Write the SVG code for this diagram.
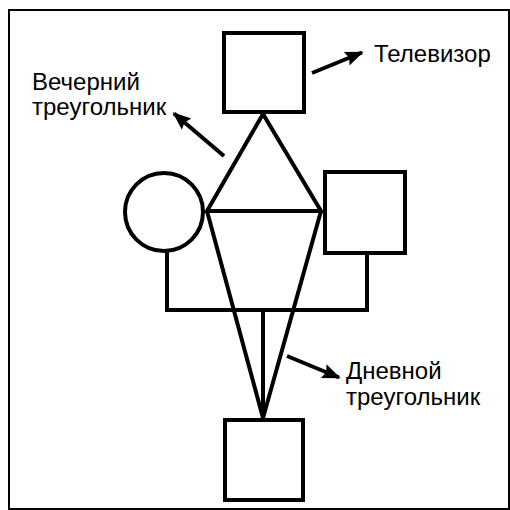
<svg xmlns="http://www.w3.org/2000/svg" width="510" height="510" viewBox="0 0 510 510">
<style>
.n{fill:#fff;stroke:#000;stroke-width:4}
.c{fill:none;stroke:#000;stroke-width:4;stroke-linejoin:miter}
.a{fill:none;stroke:#000;stroke-width:4}
.t{font-family:"Liberation Sans",Arial,sans-serif;font-size:24px;fill:#000}
</style>
<defs>
<marker id="ah" viewBox="0 0 10 10" refX="9" refY="5" markerWidth="4.6" markerHeight="4.6" orient="auto" markerUnits="strokeWidth">
<path d="M0,1 L10,5 L0,9 L1.5,5 Z" fill="#000"/>
</marker>
</defs>
<rect x="0" y="0" width="510" height="510" fill="#fff"/>
<rect x="9" y="10" width="500" height="499" fill="none" stroke="#000" stroke-width="2"/>
<g id="connectors">
<polyline class="c" points="167,252 167,310 367,310 367,253"/>
<line class="c" x1="263" y1="310" x2="263" y2="420"/>
<path class="c" d="M263,114 L207,211 L321,211 Z"/>
<path class="c" d="M207,211 L263,418 L321,211"/>
<line class="a" x1="312" y1="73" x2="362" y2="52.5" marker-end="url(#ah)"/>
<line class="a" x1="224" y1="156" x2="174" y2="113.5" marker-end="url(#ah)"/>
<line class="a" x1="287" y1="356" x2="339" y2="377.5" marker-end="url(#ah)"/>
</g>
<g id="tv"><rect class="n" x="224" y="33" width="80" height="79"/></g>
<g id="mother"><circle class="n" cx="164" cy="212" r="39"/></g>
<g id="father"><rect class="n" x="325" y="172" width="80" height="81"/></g>
<g id="child"><rect class="n" x="225" y="420" width="78" height="80"/></g>
<g id="labels">
<text class="t" x="374" y="62">Телевизор</text>
<text class="t" x="32" y="90">Вечерний</text>
<text class="t" x="32" y="115">треугольник</text>
<text class="t" x="346" y="379">Дневной</text>
<text class="t" x="346" y="405">треугольник</text>
</g>
</svg>
